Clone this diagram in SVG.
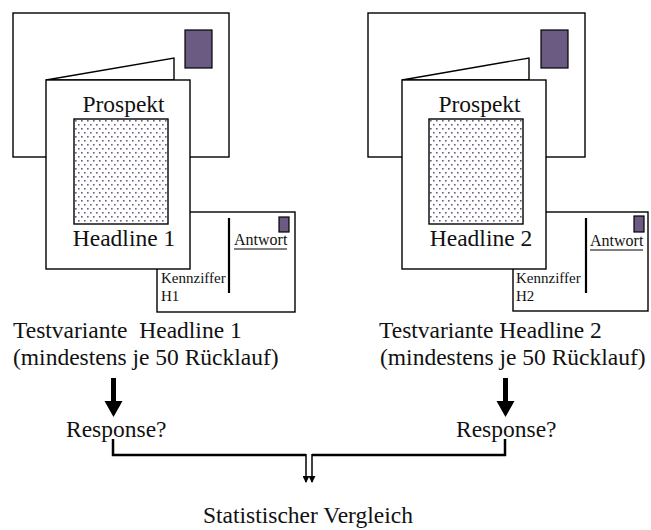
<svg xmlns="http://www.w3.org/2000/svg" width="651" height="530" viewBox="0 0 651 530">
<style>
.ln{fill:#fff;stroke:#000;stroke-width:1.4}
.stamp{fill:#6b5a82;stroke:#000;stroke-width:1.2}
.t{font-family:"Liberation Serif","Times New Roman",serif;fill:#111}
.big{font-size:23.5px;white-space:pre}
.sm{font-size:15px}
.con{fill:none;stroke:#000;stroke-width:2.5}
.thin{fill:none;stroke:#000;stroke-width:1.5}
.dot{fill:#6b5a8a}
</style>
<defs>
<pattern id="dots" x="74" y="119" width="6" height="8" patternUnits="userSpaceOnUse">
<rect class="dot" x="1" y="1" width="1.6" height="1.6"/>
<rect class="dot" x="4" y="5" width="1.6" height="1.6"/>
</pattern>
<pattern id="dots2" x="429" y="119" width="6" height="8" patternUnits="userSpaceOnUse">
<rect class="dot" x="1" y="1" width="1.6" height="1.6"/>
<rect class="dot" x="4" y="5" width="1.6" height="1.6"/>
</pattern>
<marker id="ah" markerWidth="7" markerHeight="7" refX="6" refY="3.5" orient="auto" markerUnits="userSpaceOnUse" viewBox="0 0 7 7">
<path d="M0,0 L7,3.5 L0,7 Z" fill="#000"/>
</marker>
</defs>

<g id="mailing1">
<rect class="ln" x="13" y="13" width="216" height="144"/>
<rect class="stamp" x="185" y="30" width="27" height="38"/>
<polygon class="ln" points="46,80 174,58 174,80"/>
<g id="reply1">
<rect class="ln" x="157" y="212" width="138" height="100"/>
<line x1="229" y1="218" x2="229" y2="293" stroke="#000" stroke-width="2.2"/>
<rect class="stamp" x="279" y="217" width="10" height="15"/>
<text class="t" x="234" y="245" font-size="16">Antwort</text>
<line x1="234" y1="249" x2="287" y2="249" stroke="#000" stroke-width="1.2"/>
<text class="t sm" x="161" y="283">Kennziffer</text>
<text class="t sm" x="161" y="301">H1</text>
</g>
<g id="prospekt1">
<rect class="ln" x="46" y="80" width="144" height="189"/>
<text class="t big" x="123.5" y="112" text-anchor="middle">Prospekt</text>
<rect x="74" y="119" width="94" height="105" fill="url(#dots)" stroke="#000" stroke-width="1.4"/>
<text class="t big" x="124" y="246" text-anchor="middle">Headline 1</text>
</g>
</g>

<g id="mailing2">
<rect class="ln" x="368" y="13" width="217" height="144"/>
<rect class="stamp" x="541" y="30" width="27" height="38"/>
<polygon class="ln" points="402,80 529,58 529,80"/>
<g id="reply2">
<rect class="ln" x="513" y="212" width="135" height="99"/>
<line x1="586" y1="218" x2="586" y2="293" stroke="#000" stroke-width="2.2"/>
<rect class="stamp" x="634" y="216" width="10" height="16"/>
<text class="t" x="590" y="246" font-size="16">Antwort</text>
<line x1="590" y1="250" x2="643" y2="250" stroke="#000" stroke-width="1.2"/>
<text class="t sm" x="516" y="283">Kennziffer</text>
<text class="t sm" x="516" y="301">H2</text>
</g>
<g id="prospekt2">
<rect class="ln" x="402" y="80" width="144" height="189"/>
<text class="t big" x="479.5" y="112" text-anchor="middle">Prospekt</text>
<rect x="429" y="119" width="94" height="105" fill="url(#dots2)" stroke="#000" stroke-width="1.4"/>
<text class="t big" x="481" y="246" text-anchor="middle">Headline 2</text>
</g>
</g>

<g id="label1">
<text class="t big" x="13" y="338">Testvariante  Headline 1</text>
<text class="t big" x="13" y="365">(mindestens je 50 Rücklauf)</text>
</g>
<g id="label2">
<text class="t big" x="379" y="338">Testvariante Headline 2</text>
<text class="t big" x="380" y="365">(mindestens je 50 Rücklauf)</text>
</g>
<g id="response1"><text class="t big" x="66" y="437">Response?</text></g>
<g id="response2"><text class="t big" x="456" y="437">Response?</text></g>
<g id="result"><text class="t big" x="203" y="523">Statistischer Vergleich</text></g>

<g id="connectors">
<polygon points="111,378 116,378 116,401 122.5,401 113.5,417 104.5,401 111,401" fill="#000"/>
<polygon points="503,378 508,378 508,401 514.5,401 505.5,417 496.5,401 503,401" fill="#000"/>
<path class="con" d="M113,439 V455 H306"/>
<path class="con" d="M505,439 V455 H312"/>
<path class="thin" d="M306,454 V482" marker-end="url(#ah)"/>
<path class="thin" d="M312,454 V482" marker-end="url(#ah)"/>
</g>
</svg>
